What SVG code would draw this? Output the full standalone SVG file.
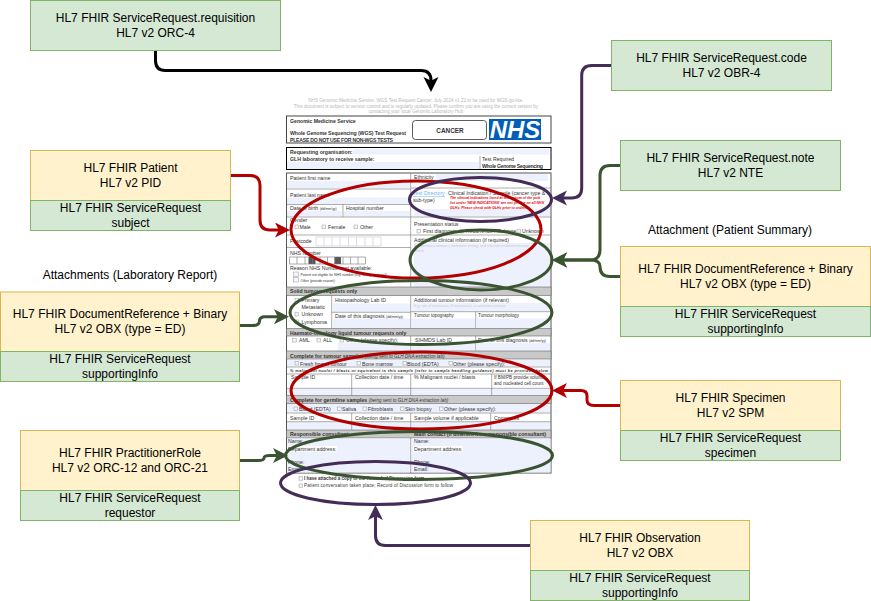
<svg xmlns="http://www.w3.org/2000/svg" width="871" height="601" viewBox="0 0 871 601">
<style>
text{font-family:"Liberation Sans",Arial,sans-serif;fill:#000}
.n text{font-size:12px;text-anchor:middle}
.g{fill:#d5e8d4;stroke:#82b366}
.y{fill:#fff2cc;stroke:#d6b656}
.lb{font-size:12px;text-anchor:middle}
#form text{font-size:5.2px;fill:#333}
#form .hd{font-size:4.6px;fill:#b8b8b8;text-anchor:middle}
#form .b{font-weight:bold}
#form .i{font-style:italic}
#form .s{font-size:3.4px}
#form .hint{font-size:3.6px;fill:#c4c8d4;font-style:italic}
#form .red{font-size:3.5px;fill:#e8000d;font-weight:bold;font-style:italic}
.fld{fill:#edf1fd;stroke:none}
.bar{fill:#c9c9c9;stroke:#666;stroke-width:.6}
.ln{stroke:#777;stroke-width:.6;fill:none}
.cb{fill:#f4f6fe;stroke:#999;stroke-width:.5}
.box{fill:#fff;stroke:#444;stroke-width:1}
.e{fill:none;stroke-width:3}
.c{fill:none;stroke-width:3}
.red3{stroke:#b20000}.pur{stroke:#432d57}.grn{stroke:#3a5431}.blk{stroke:#000}
</style>
<defs>
<marker id="aK" markerUnits="userSpaceOnUse" markerWidth="16" markerHeight="16" refX="4" refY="7.5" orient="auto"><path d="M15 7.5L0 0L3.8 7.5L0 15Z" fill="#000"/></marker>
<marker id="aR" markerUnits="userSpaceOnUse" markerWidth="16" markerHeight="16" refX="4" refY="7.5" orient="auto"><path d="M15 7.5L0 0L3.8 7.5L0 15Z" fill="#b20000"/></marker>
<marker id="aP" markerUnits="userSpaceOnUse" markerWidth="16" markerHeight="16" refX="4" refY="7.5" orient="auto"><path d="M15 7.5L0 0L3.8 7.5L0 15Z" fill="#432d57"/></marker>
<marker id="aG" markerUnits="userSpaceOnUse" markerWidth="16" markerHeight="16" refX="4" refY="7.5" orient="auto"><path d="M15 7.5L0 0L3.8 7.5L0 15Z" fill="#3a5431"/></marker>
</defs>
<rect width="871" height="601" fill="#fff"/>

<g id="form">
<text class="hd" x="416" y="102">NHS Genomic Medicine Service, WGS Test Request Cancer, July 2024 v1.22 to be used for WGS go-live.</text>
<text class="hd" x="416" y="107.5">This document is subject to version control and is regularly updated. Please confirm you are using the current version by</text>
<text class="hd" x="416" y="113">contacting your local Genomic Laboratory Hub</text>

<rect class="box" x="286.5" y="116" width="264.5" height="27"/>
<text class="b" x="290" y="122.5">Genomic Medicine Service</text>
<text class="b" x="290" y="135" textLength="116">Whole Genome Sequencing (WGS) Test Request</text>
<text class="b" x="290" y="142" textLength="103">PLEASE DO NOT USE FOR NON-WGS TESTS</text>
<rect x="412.5" y="120.5" width="74" height="19" rx="3" fill="#fff" stroke="#333" stroke-width=".8"/>
<text class="b" x="450" y="133" text-anchor="middle" style="font-size:6.4px">CANCER</text>
<rect x="489" y="119" width="52" height="21" fill="#005eb8"/>
<text x="515" y="138" text-anchor="middle" font-weight="bold" font-style="italic" style="font-size:24px;fill:#fff">NHS</text>

<rect x="286.5" y="147.5" width="264.5" height="22" fill="#fff" stroke="#000" stroke-width="1"/>
<rect class="fld" x="353" y="149" width="196" height="5.5"/>
<rect class="fld" x="287" y="162" width="192" height="7"/>
<text class="b" x="290" y="154">Requesting organisation:</text>
<text class="b" x="290" y="161">GLH laboratory to receive sample:</text>
<path class="ln" d="M480 156V169"/>
<text x="482" y="161">Test Required</text>
<text class="b" x="482" y="168" textLength="61">Whole Genome Sequencing</text>

<rect x="286.5" y="173" width="264.5" height="300" fill="#fff" stroke="#555" stroke-width="1"/>
<rect class="fld" x="287" y="181" width="123" height="7"/>
<rect class="fld" x="287" y="197.5" width="123" height="6.5"/>
<rect class="fld" x="287" y="211" width="55" height="5.5"/>
<rect class="fld" x="344" y="211" width="66" height="5.5"/>
<rect class="fld" x="436" y="174" width="112" height="7"/>
<rect class="fld" x="414" y="209" width="136" height="7.5"/>
<rect class="fld" x="414" y="243" width="136" height="44"/>
<path class="ln" d="M410.7 173V287M287 189H410.7M287 204.500H410.700M287 217H551M287 235H551M287 247.500H410.700M343 204.500V217M411 188H551"/>
<text x="290" y="179.500">Patient first name</text>
<text x="290" y="197">Patient last name</text>
<text x="290" y="210">Date of birth <tspan class="s">(dd/mm/yy)</tspan></text>
<text x="346" y="210">Hospital number</text>
<text x="290" y="222">Gender</text>
<rect class="cb" x="295" y="225" width="3.500" height="3.800"/><text x="299.500" y="229">Male</text>
<rect class="cb" x="322" y="225" width="3.500" height="3.800"/><text x="328" y="229">Female</text>
<rect class="cb" x="354" y="225" width="3.500" height="3.800"/><text x="360" y="229">Other</text>
<text x="290" y="243">Postcode</text>
<path class="ln" d="M316 237H381V246H316ZM324 237V246M332 237V246M340 237V246M348.500 237V246M356.500 237V246M365 237V246M373 237V246" style="stroke:#c4c8d4"/>
<text x="290" y="255">NHS Number</text>
<rect x="308.500" y="257" width="7" height="7" fill="#555"/>
<rect x="334.500" y="257" width="6.500" height="7" fill="#555"/>
<path class="ln" d="M289.500 257H365.500V264H289.500ZM297 257V264M305 257V264M312.500 257V264M320 257V264M327.500 257V264M335 257V264M343 257V264M350.500 257V264M358 257V264"/>
<text x="290" y="270">Reason NHS Number not available:</text>
<rect class="cb" x="293.500" y="272" width="5" height="4.500"/>
<rect class="cb" x="293.500" y="277.500" width="5" height="4.500"/>
<text class="s" x="300.500" y="275.500">Patient not eligible for NHS number (e.g. foreign national)</text>
<text class="s" x="300.500" y="281.500">Other (provide reason):</text>

<text x="414" y="179">Ethnicity</text>
<text x="413" y="195" style="fill:#6cb4ee" text-decoration="underline">Test Directory</text>
<text x="448" y="195">Clinical Indication / Sample (cancer type &amp;</text>
<text x="413" y="202">sub-type)</text>
<text class="red" x="450" y="199">The clinical indications listed at the bottom of the pick</text>
<text class="red" x="450" y="204">list under 'NEW INDICATIONS' are not yet live on all NHS</text>
<text class="red" x="450" y="209">GLHs. Please check with GLHs prior to ordering</text>
<text x="414" y="225.500">Presentation status</text>
<rect class="cb" x="417" y="229.500" width="3.500" height="3.500"/><text x="423" y="233">First diagnosis</text>
<rect class="cb" x="460" y="229.500" width="3.500" height="3.500"/><text x="466" y="233">Recurrence / Relapse</text>
<rect class="cb" x="517" y="229.500" width="3.500" height="3.500"/><text x="522" y="233">Unknown</text>
<text x="414" y="241.500">Additional clinical information (if required)</text>
<text class="hint" x="414" y="247">E.g. previous tumours, molecular testing, and relevant treatment history/</text>
<text class="hint" x="414" y="252">details</text>

<rect class="bar" x="286.500" y="287" width="264.500" height="8.500"/>
<text class="b" x="290" y="293">Solid tumour requests only</text>
<rect class="fld" x="333" y="303.500" width="77" height="8.500"/>
<rect class="fld" x="333" y="318.500" width="77" height="9.500"/>
<rect class="fld" x="412" y="303" width="138" height="8.500"/>
<rect class="fld" x="412" y="318.500" width="63" height="9.500"/>
<rect class="fld" x="477" y="318.500" width="73" height="9.500"/>
<path class="ln" d="M331.700 295.500V328M410.700 295.500V351M331.700 312.300H410.700M410.700 311.700H551M475.700 311.700V328M475.700 336V351"/>
<rect class="cb" x="295" y="298.500" width="3.500" height="3.500"/><text x="301.500" y="301.500">Primary</text>
<text x="301.500" y="308.500">Metastatic</text>
<rect class="cb" x="295" y="312.500" width="3.500" height="3.500"/><text x="301.500" y="316">Unknown</text>
<rect class="cb" x="295" y="320" width="3.500" height="3.500"/><text x="301.500" y="323.500">Lymphoma</text>
<text x="335" y="301.500">Histopathology Lab ID</text>
<text x="335" y="317.500">Date of this diagnosis <tspan class="s">(dd/mm/yy)</tspan></text>
<text x="414" y="301.500">Additional tumour information (if relevant)</text>
<text class="hint" x="414" y="306.500">E.g. site of metastasis (if metastatic), or unknown primary</text>
<text x="414" y="316.500" style="font-size:4.600px">Tumour topography</text>
<text x="478" y="316.500" style="font-size:4.600px">Tumour morphology</text>

<rect class="bar" x="286.500" y="328.500" width="264.500" height="7.500"/>
<text class="b" x="290" y="334.500">Haemato-oncology liquid tumour requests only</text>
<rect class="fld" x="338" y="343" width="72" height="8"/>
<rect class="fld" x="412" y="343" width="63" height="8"/>
<rect class="fld" x="477" y="343" width="73" height="8"/>
<rect class="cb" x="292.700" y="338.500" width="3.500" height="3.500"/><text x="299" y="341.700">AML</text>
<rect class="cb" x="317" y="338.500" width="3.500" height="3.500"/><text x="323" y="341.700">ALL</text>
<rect class="cb" x="340" y="338.500" width="3.500" height="3.500"/><text x="346" y="341.700">Other (please specify):</text>
<text x="415" y="341.700">SIHMDS Lab ID</text>
<text x="478" y="341.700">Date of this diagnosis <tspan class="s">(dd/mm/yy)</tspan></text>

<rect class="bar" x="286.500" y="351" width="264.500" height="8"/>
<text x="290" y="357.500"><tspan class="b">Complete for tumour samples</tspan> <tspan class="i" style="font-size:4.600px">(being sent to GLH DNA extraction lab)</tspan></text>
<rect class="fld" x="287" y="360" width="263" height="6.500"/>
<rect class="cb" x="295" y="361.500" width="3.500" height="3.500"/><text x="300" y="365.500">Fresh frozen tumour</text>
<rect class="cb" x="357" y="361.500" width="3.500" height="3.500"/><text x="362" y="365.500">Bone marrow</text>
<rect class="cb" x="403" y="361.500" width="3.500" height="3.500"/><text x="407" y="365.500">Blood (EDTA)</text>
<rect class="cb" x="449" y="361.500" width="3.500" height="3.500"/><text x="453" y="365.500">Other (please specify):</text>
<text class="i b" x="290" y="372" style="font-size:3.900px" textLength="258">% malignant nuclei / blasts or equivalent in this sample (refer to sample handling guidance) must be provided below</text>
<rect class="fld" x="287" y="389" width="263" height="6.500"/>
<path class="ln" d="M287 367H551M287 374H551M287 388.300H551M351.700 374V395.500M410.700 374V395.500M491.700 374V395.500"/>
<text x="291" y="379.300">Sample ID</text>
<text x="355" y="379.300">Collection date / time</text>
<text x="414" y="379.300">% Malignant nuclei / blasts</text>
<text x="494" y="379.300" style="font-size:4.600px">If BM/PB provide volume</text>
<text x="494" y="385" style="font-size:4.600px">and nucleated cell count</text>

<rect class="bar" x="286.500" y="395.700" width="264.500" height="7.800"/>
<text x="290" y="401.800"><tspan class="b">Complete for germline samples</tspan> <tspan class="i" style="font-size:4.600px">(being sent to GLH DNA extraction lab)</tspan></text>
<rect class="fld" x="287" y="404" width="263" height="8.500"/>
<rect class="cb" x="294" y="407" width="3.500" height="3.500"/><text x="299" y="410.700">Blood (EDTA)</text>
<rect class="cb" x="337.700" y="407" width="3.500" height="3.500"/><text x="342" y="410.700">Saliva</text>
<rect class="cb" x="363" y="407" width="3.500" height="3.500"/><text x="367.700" y="410.700">Fibroblasts</text>
<rect class="cb" x="400.500" y="407" width="3.500" height="3.500"/><text x="405" y="410.700">Skin biopsy</text>
<rect class="cb" x="439.500" y="407" width="3.500" height="3.500"/><text x="444" y="410.700">Other (please specify):</text>
<rect class="fld" x="287" y="422" width="263" height="8"/>
<path class="ln" d="M287 413H551M287 421.700H551M351.700 413V430M410.700 413V430M490.700 413V430"/>
<text x="290" y="420">Sample ID</text>
<text x="355" y="420">Collection date / time</text>
<text x="414" y="420">Sample volume if applicable</text>
<text x="494" y="420">Comments</text>

<rect class="bar" x="286.500" y="430" width="264.500" height="8"/>
<text class="b" x="290" y="436.300">Responsible consultant</text>
<text class="b" x="414" y="436.300" textLength="132">Main contact (if different from responsible consultant)</text>
<rect class="fld" x="287" y="438.500" width="123" height="34"/>
<rect class="fld" x="411.500" y="438.500" width="139" height="34"/>
<rect x="287" y="446" width="50" height="5.500" fill="#fff"/>
<rect x="413" y="446" width="50" height="5.500" fill="#fff"/>
<path class="ln" d="M410.700 438V473"/>
<text x="288" y="443.300">Name:</text>
<text x="288" y="450.700">Department address:</text>
<text x="288" y="464.300">Phone:</text>
<text x="288" y="471.300">Email:</text>
<text x="414" y="443.300">Name:</text>
<text x="414" y="450.700">Department address:</text>
<text x="414" y="464.300">Phone:</text>
<text x="414" y="471.300">Email:</text>
<rect class="cb" x="299" y="476.700" width="3.500" height="3.500"/>
<text class="b" x="304" y="480" style="font-size:4.500px">I have attached a copy of the Record of Discussion form</text>
<rect class="cb" x="299" y="484" width="3.500" height="3.500"/>
<text x="304" y="487" style="font-size:4.500px" textLength="149">Patient conversation taken place; Record of Discussion form to follow</text>
</g>

<g id="highlights">
<ellipse class="e red3" cx="416" cy="229.500" rx="125" ry="48.500"/>
<ellipse class="e pur" cx="480.500" cy="199.500" rx="71" ry="22"/>
<ellipse class="e grn" cx="481" cy="260" rx="71" ry="30"/>
<ellipse class="e grn" cx="421" cy="312.500" rx="131" ry="32"/>
<ellipse class="e red3" cx="421.500" cy="390.500" rx="130.500" ry="38.500"/>
<ellipse class="e grn" cx="419" cy="455.500" rx="133.500" ry="24"/>
<ellipse class="e pur" cx="375.500" cy="483" rx="95" ry="21.500"/>
</g>

<g id="connectors">
<path class="c blk" marker-end="url(#aK)" d="M155.500 50.500V60.500Q155.500 70.500 165.500 70.500H421Q431 70.500 431 80.500V81"/>
<path class="c red3" marker-end="url(#aR)" d="M230.500 175.500H250Q260 175.500 260 185.500V220Q260 230 270 230H279"/>
<path class="c pur" marker-end="url(#aP)" d="M611.500 65.500H591.700Q581.700 65.500 581.700 75.500V188Q581.700 198 571.700 198H563"/>
<path class="c grn" marker-end="url(#aG)" d="M620.500 165.500H610Q600 165.500 600 175.500V250Q600 260 590 260H563"/>
<path class="c grn" marker-end="url(#aG)" d="M620.500 276.500H610Q600 276.500 600 266.500Q600 260 590 260H563"/>
<path class="c red3" marker-end="url(#aR)" d="M620.500 405.500H594Q587 405.500 587 400V396Q587 390.500 581 390.500H563"/>
<path class="c grn" marker-end="url(#aG)" d="M239.500 325.500H253Q259.500 325.500 259.500 321Q259.500 316.700 265 316.700H278"/>
<path class="c grn" marker-end="url(#aG)" d="M239.500 460.500H258Q264 460.500 264 458Q264 455.500 270 455.500H277"/>
<path class="c pur" marker-end="url(#aP)" d="M530.500 545.500H385.500Q375.500 545.500 375.500 535.500V516"/>
</g>

<g id="n-requisition" class="n"><rect class="g" x="30.500" y="0.500" width="250" height="50"/><text x="155.500" y="22">HL7 FHIR ServiceRequest.requisition</text><text x="155.500" y="37">HL7 v2 ORC-4</text></g>
<g id="n-patient" class="n"><rect class="y" x="30.500" y="150.500" width="200" height="50"/><rect class="g" x="30.500" y="200.500" width="200" height="30"/><text x="130.500" y="172">HL7 FHIR Patient</text><text x="130.500" y="187">HL7 v2 PID</text><text x="130.500" y="212">HL7 FHIR ServiceRequest</text><text x="130.500" y="227">subject</text></g>
<text id="lbl-lab" class="lb" x="130" y="279">Attachments (Laboratory Report)</text>
<g id="n-labreport" class="n"><rect class="y" x="0.500" y="292" width="239" height="59.500"/><rect class="g" x="0.500" y="351.500" width="239" height="30"/><text x="120" y="318">HL7 FHIR DocumentReference + Binary</text><text x="120" y="333">HL7 v2 OBX (type = ED)</text><text x="120" y="363">HL7 FHIR ServiceRequest</text><text x="120" y="378">supportingInfo</text></g>
<g id="n-practitioner" class="n"><rect class="y" x="20.500" y="430.500" width="219" height="60"/><rect class="g" x="20.500" y="490.500" width="219" height="30"/><text x="130" y="457">HL7 FHIR PractitionerRole</text><text x="130" y="472">HL7 v2 ORC-12 and ORC-21</text><text x="130" y="502">HL7 FHIR ServiceRequest</text><text x="130" y="517">requestor</text></g>
<g id="n-code" class="n"><rect class="g" x="611.500" y="40.500" width="220" height="50"/><text x="721.500" y="62">HL7 FHIR ServiceRequest.code</text><text x="721.500" y="77">HL7 v2 OBR-4</text></g>
<g id="n-note" class="n"><rect class="g" x="620.500" y="140.500" width="220" height="50"/><text x="730.500" y="162">HL7 FHIR ServiceRequest.note</text><text x="730.500" y="177">HL7 v2 NTE</text></g>
<text id="lbl-sum" class="lb" x="730" y="234">Attachment (Patient Summary)</text>
<g id="n-summary" class="n"><rect class="y" x="620.500" y="246.500" width="250" height="60"/><rect class="g" x="620.500" y="306.500" width="250" height="30"/><text x="745.500" y="273">HL7 FHIR DocumentReference + Binary</text><text x="745.500" y="288">HL7 v2 OBX (type = ED)</text><text x="745.500" y="318">HL7 FHIR ServiceRequest</text><text x="745.500" y="333">supportingInfo</text></g>
<g id="n-specimen" class="n"><rect class="y" x="620.500" y="380.500" width="220" height="50"/><rect class="g" x="620.500" y="430.500" width="220" height="30"/><text x="730.500" y="402">HL7 FHIR Specimen</text><text x="730.500" y="417">HL7 v2 SPM</text><text x="730.500" y="442">HL7 FHIR ServiceRequest</text><text x="730.500" y="457">specimen</text></g>
<g id="n-observation" class="n"><rect class="y" x="530.500" y="520.500" width="219" height="50"/><rect class="g" x="530.500" y="570.500" width="219" height="30"/><text x="640" y="542">HL7 FHIR Observation</text><text x="640" y="557">HL7 v2 OBX</text><text x="640" y="582">HL7 FHIR ServiceRequest</text><text x="640" y="597">supportingInfo</text></g>
</svg>
